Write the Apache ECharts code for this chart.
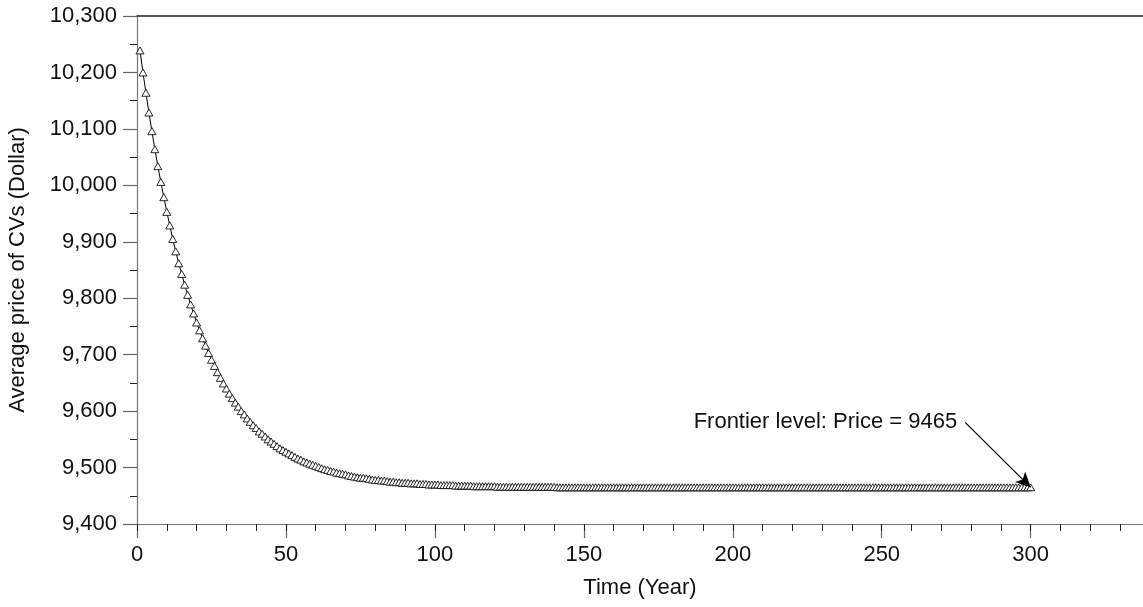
<!DOCTYPE html>
<html>
<head>
<meta charset="utf-8">
<script src="https://cdn.jsdelivr.net/npm/echarts@6/dist/echarts.min.js"></script>
<style>html,body{margin:0;padding:0;background:#fff;}#chart{width:1143px;height:607px;}</style>
</head>
<body>
<div id="chart"></div>
<script>
// Average price of CVs (Dollar), one value per year, years 1..300
const prices = [
  10239,10200,10164,10129,10096,10064,10034,10006,9979,9953,
  9929,9905,9883,9862,9843,9824,9806,9789,9773,9757,
  9743,9729,9716,9703,9691,9680,9669,9659,9649,9640,
  9631,9623,9615,9608,9600,9594,9587,9581,9575,9570,
  9564,9560,9555,9550,9546,9542,9538,9534,9531,9528,
  9525,9522,9519,9516,9514,9511,9509,9507,9505,9503,
  9501,9499,9497,9496,9494,9493,9491,9490,9489,9488,
  9486,9485,9484,9483,9482,9482,9481,9480,9479,9478,
  9478,9477,9477,9476,9475,9475,9474,9474,9473,9473,
  9473,9472,9472,9472,9471,9471,9471,9470,9470,9470,
  9470,9469,9469,9469,9469,9469,9468,9468,9468,9468,
  9468,9468,9467,9467,9467,9467,9467,9467,9467,9467,
  9466,9466,9466,9466,9466,9466,9466,9466,9466,9466,
  9466,9466,9466,9466,9466,9466,9466,9466,9466,9466,
  9465,9465,9465,9465,9465,9465,9465,9465,9465,9465,
  9465,9465,9465,9465,9465,9465,9465,9465,9465,9465,
  9465,9465,9465,9465,9465,9465,9465,9465,9465,9465,
  9465,9465,9465,9465,9465,9465,9465,9465,9465,9465,
  9465,9465,9465,9465,9465,9465,9465,9465,9465,9465,
  9465,9465,9465,9465,9465,9465,9465,9465,9465,9465,
  9465,9465,9465,9465,9465,9465,9465,9465,9465,9465,
  9465,9465,9465,9465,9465,9465,9465,9465,9465,9465,
  9465,9465,9465,9465,9465,9465,9465,9465,9465,9465,
  9465,9465,9465,9465,9465,9465,9465,9465,9465,9465,
  9465,9465,9465,9465,9465,9465,9465,9465,9465,9465,
  9465,9465,9465,9465,9465,9465,9465,9465,9465,9465,
  9465,9465,9465,9465,9465,9465,9465,9465,9465,9465,
  9465,9465,9465,9465,9465,9465,9465,9465,9465,9465,
  9465,9465,9465,9465,9465,9465,9465,9465,9465,9465,
  9465,9465,9465,9465,9465,9465,9465,9465,9465,9465
];
const firstYear = 1;
const years = prices.map((_, i) => firstYear + i);
const xTickValues = [0, 50, 100, 150, 200, 250, 300];
const yTickValues = [9400, 9500, 9600, 9700, 9800, 9900, 10000, 10100, 10200, 10300];
const xMax = 337.7;
const annotationText = 'Frontier level: Price = 9465';
const annotationStart = [278, 9580];
const frontierPoint = [years[years.length - 1], prices[prices.length - 1]];

const FONT = '"Liberation Sans", Arial, Helvetica, sans-serif';
const FS = 22;

const chart = echarts.init(document.getElementById('chart'), null, {renderer: 'canvas'});
chart.setOption({
  animation: false,
  backgroundColor: '#fff',
  textStyle: {fontFamily: FONT},
  grid: {left: 137, top: 16, right: 0, height: 508, containLabel: false, outerBoundsMode: 'none'},
  xAxis: [{
    type: 'value',
    min: 0, max: xMax, interval: 50,
    name: 'Time (Year)',
    nameLocation: 'middle',
    nameGap: 53,
    nameMoveOverlap: false,
    nameTextStyle: {fontSize: FS, color: '#111', fontFamily: FONT},
    axisLine: {show: true, lineStyle: {color: '#777', width: 1.2}},
    axisTick: {show: true, inside: false, length: 14, lineStyle: {color: '#666', width: 1.2}},
    splitLine: {show: false},
    axisLabel: {
      fontSize: FS, color: '#111', margin: 20, fontFamily: FONT,
      showMaxLabel: false,
      formatter: v => xTickValues.indexOf(v) >= 0 ? String(v) : ''
    }
  }, {
    // minor ticks every 10 years
    type: 'value', position: 'bottom', min: 0, max: xMax, interval: 10,
    axisLine: {show: false},
    axisTick: {show: true, inside: false, length: 7, lineStyle: {color: '#222', width: 1}},
    axisLabel: {show: false}, splitLine: {show: false}
  }, {
    type: 'value', position: 'top', min: 0, max: xMax,
    axisLine: {show: true, lineStyle: {color: '#222', width: 1.5}},
    axisTick: {show: false}, axisLabel: {show: false}, splitLine: {show: false}
  }],
  yAxis: {
    type: 'value',
    min: 9400, max: 10300, interval: 100,
    name: 'Average price of CVs (Dollar)',
    nameLocation: 'middle',
    nameGap: 108,
    nameMoveOverlap: false,
    nameTextStyle: {fontSize: FS, color: '#111', fontFamily: FONT},
    axisLine: {show: true, lineStyle: {color: '#777', width: 1.2}},
    axisTick: {show: true, inside: false, length: 14, lineStyle: {color: '#666', width: 1.2}},
    minorTick: {show: true, splitNumber: 2, length: 7, lineStyle: {color: '#222', width: 1}},
    splitLine: {show: false},
    axisLabel: {
      fontSize: FS, color: '#111', margin: 20, fontFamily: FONT,
      formatter: v => yTickValues.indexOf(v) >= 0 ? v.toLocaleString('en-US') : ''
    }
  },
  series: [{
    type: 'line',
    xAxisIndex: 0,
    data: years.map((y, i) => [y, prices[i]]),
    symbol: 'triangle',
    symbolSize: [8, 7],
    showSymbol: true,
    showAllSymbol: true,
    lineStyle: {color: '#000', width: 1},
    itemStyle: {color: '#fff', borderColor: '#111', borderWidth: 0.9},
    clip: false,
    markLine: {
      silent: true,
      symbol: ['none', 'arrow'],
      symbolSize: [11, 15],
      lineStyle: {color: '#000', width: 1.2, type: 'solid'},
      label: {show: false},
      data: [[{coord: annotationStart}, {coord: frontierPoint}]]
    },
    markPoint: {
      silent: true,
      symbol: 'circle',
      symbolSize: 0,
      label: {
        show: true, position: 'left', distance: 8,
        formatter: annotationText,
        fontSize: FS, color: '#111', fontFamily: FONT
      },
      data: [{coord: annotationStart}]
    }
  }]
});
</script>
</body>
</html>
